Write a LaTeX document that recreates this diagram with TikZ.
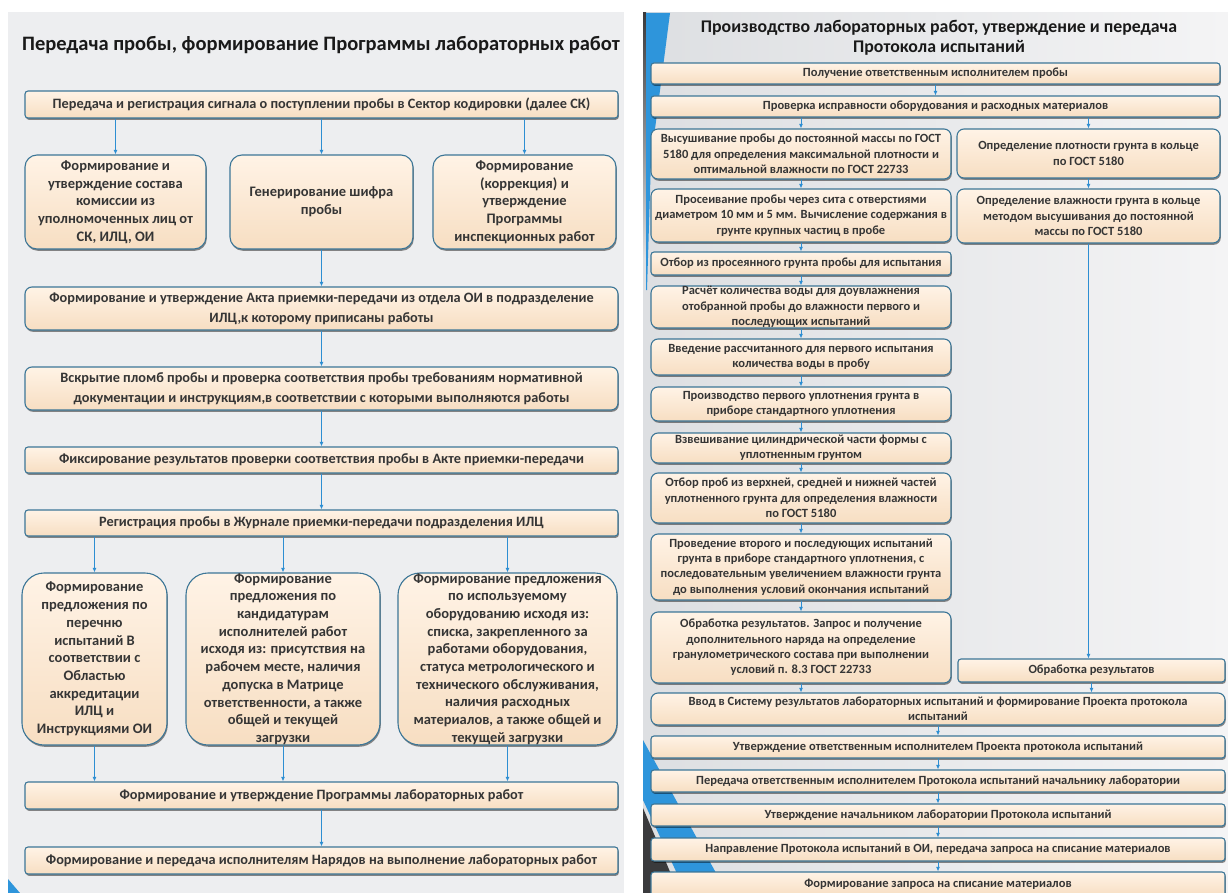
\documentclass[tikz,border=0pt]{standalone}
\usepackage{fontspec}
\setmainfont{Carlito}
\usetikzlibrary{shadows,arrows.meta}
\definecolor{leftbg}{HTML}{EDEEF0}
\definecolor{rbgL}{HTML}{DDDFE2}
\definecolor{rbgR}{HTML}{F4F4F5}
\definecolor{boxtop}{HTML}{FFF3E6}
\definecolor{boxbot}{HTML}{F7DEC2}
\definecolor{boxline}{HTML}{3C7697}
\definecolor{arrc}{HTML}{2D8ED2}
\definecolor{textc}{HTML}{353535}
\definecolor{stripe}{HTML}{2E95DB}
\definecolor{darkstripe}{HTML}{3A3A3C}
\newcommand\bx[8]{%
  \pgfmathsetmacro\bw{#4-#2}\pgfmathsetmacro\bh{#5-#3}%
  \pgfmathsetmacro\bcx{(#2+#4)/2}\pgfmathsetmacro\bcy{(#3+#5)/2}%
  \node[box,#6,minimum width=\bw pt,minimum height=\bh pt] (#1) at (\bcx,\bcy) {};%
  \node[txt,#7] (#1t) at (#1.center) {#8};}
\begin{document}
\begin{tikzpicture}[x=1pt,y=-1pt,
  box/.style={draw=boxline, line width=1.1pt, top color=boxtop, bottom color=boxbot,
    rounded corners=3pt, inner sep=0pt,
    drop shadow={shadow xshift=0.8pt, shadow yshift=-1.8pt, fill=black, opacity=0.45}},
  rbox/.style={rounded corners=12pt},
  rrbox/.style={rounded corners=22pt},
  mbox/.style={rounded corners=7pt},
  txt/.style={align=center, text=textc, inner sep=0pt, font=\bfseries\fontsize{14.3}{20}\selectfont},
  stxt/.style={font=\bfseries\fontsize{14.5}{17.7}\selectfont},
  rtxt/.style={font=\bfseries\fontsize{12.5}{15.3}\selectfont},
  arr/.style={draw=arrc, line width=1pt, -{Latex[length=4.5pt,width=4pt]}},
  ttl/.style={text=black!90, inner sep=0pt, align=center}]
\useasboundingbox (0,0) rectangle (1228,893);
\fill[white] (0,0) rectangle (1228,893);
% left panel
\fill[leftbg] (8,12) rectangle (624,893);
\fill[stripe] (8,879) -- (20,893) -- (8,893) -- cycle;
% right panel
\shade[left color=rbgL, right color=rbgR] (643,13) rectangle (1228,893);
\shade[top color=darkstripe, bottom color=rbgL] (643,13) rectangle (646,260);
\fill[stripe] (646,13) -- (670,13) -- (651,160) -- (647,290) -- (646,290) -- cycle;
\fill[stripe] (643,740) -- (727,893) -- (686,893) -- (643,800) -- cycle;
\fill[darkstripe] (643,808) -- (679,893) -- (643,893) -- cycle;

% ---------- LEFT ----------
\node[ttl, font=\bfseries\fontsize{20.5}{24}\selectfont] (t1) at (321,45) {Передача пробы, формирование Программы лабораторных работ};

\bx{b1}{25}{91}{618}{118}{}{}{Передача и регистрация сигнала о поступлении пробы в Сектор кодировки (далее СК)}
\bx{bA}{25}{155}{206}{249}{rbox}{stxt}{Формирование и\\утверждение состава\\комиссии из\\уполномоченных лиц от\\СК, ИЛЦ, ОИ}
\bx{bB}{230}{155}{413}{249}{rbox}{stxt}{Генерирование шифра\\пробы}
\bx{bC}{433}{155}{616}{249}{rbox}{stxt}{Формирование\\(коррекция) и\\утверждение\\Программы\\инспекционных работ}
\bx{b2}{25}{287}{618}{330}{mbox}{}{Формирование и утверждение Акта приемки-передачи из отдела ОИ в подразделение\\ИЛЦ,к которому приписаны работы}
\bx{b3}{25}{367}{618}{410}{mbox}{}{Вскрытие пломб пробы и проверка соответствия пробы требованиям нормативной\\документации и инструкциям,в соответствии с которыми выполняются работы}
\bx{b4}{25}{447}{618}{473}{}{}{Фиксирование результатов проверки соответствия пробы в Акте приемки-передачи}
\bx{b5}{25}{510}{618}{536}{}{}{Регистрация пробы в Журнале приемки-передачи подразделения ИЛЦ}
\bx{bA2}{22}{573}{167}{745}{rrbox}{stxt}{Формирование\\предложения по\\перечню\\испытаний В\\соответствии с\\Областью\\аккредитации\\ИЛЦ и\\Инструкциями ОИ}
\bx{bB2}{186}{573}{380}{745}{rrbox}{stxt}{Формирование\\предложения по\\кандидатурам\\исполнителей работ\\исходя из: присутствия на\\рабочем месте, наличия\\допуска в Матрице\\ответственности, а также\\общей и текущей\\загрузки}
\bx{bC2}{398}{573}{617}{745}{rrbox}{stxt}{Формирование предложения\\по используемому\\оборудованию исходя из:\\списка, закрепленного за\\работами оборудования,\\статуса метрологического и\\технического обслуживания,\\наличия расходных\\материалов, а также общей и\\текущей загрузки}
\bx{b6}{25}{782}{618}{809}{}{}{Формирование и утверждение Программы лабораторных работ}
\bx{b7}{25}{847}{618}{874}{}{}{Формирование и передача исполнителям Нарядов на выполнение лабораторных работ}

\draw[arr] (b1.south -| bA.north) -- (bA.north);
\draw[arr] (b1.south -| bB.north) -- (bB.north);
\draw[arr] (b1.south -| bC.north) -- (bC.north);
\draw[arr] (bB.south) -- (b2.north -| bB.south);
\draw[arr] (b2.south) -- (b3.north);
\draw[arr] (b3.south) -- (b4.north);
\draw[arr] (b4.south) -- (b5.north);
\draw[arr] (b5.south -| bA2.north) -- (bA2.north);
\draw[arr] (b5.south -| bB2.north) -- (bB2.north);
\draw[arr] (b5.south -| bC2.north) -- (bC2.north);
\draw[arr] (bA2.south) -- (b6.north -| bA2.south);
\draw[arr] (bB2.south) -- (b6.north -| bB2.south);
\draw[arr] (bC2.south) -- (b6.north -| bC2.south);
\draw[arr] (b6.south) -- (b7.north);

% ---------- RIGHT ----------
\node[ttl, font=\bfseries\fontsize{17.8}{20.5}\selectfont] (t2) at (939,38) {Производство лабораторных работ, утверждение и передача\\Протокола испытаний};

\bx{r1}{651}{63}{1220}{84}{}{rtxt}{Получение ответственным исполнителем пробы}
\bx{r2}{651}{96}{1220}{117}{}{rtxt}{Проверка исправности оборудования и расходных материалов}
\bx{l1}{651}{129}{951}{179}{mbox}{rtxt}{Высушивание пробы до постоянной массы по ГОСТ\\5180 для определения максимальной плотности и\\оптимальной влажности по ГОСТ 22733}
\bx{q1}{957}{129}{1220}{178}{mbox}{rtxt}{Определение плотности грунта в кольце\\по ГОСТ 5180}
\bx{l2}{651}{189}{951}{242}{mbox}{rtxt}{Просеивание пробы через сита с отверстиями\\диаметром 10 мм и 5 мм. Вычисление содержания в\\грунте крупных частиц в пробе}
\bx{q2}{957}{189}{1220}{243}{mbox}{rtxt}{Определение влажности грунта в кольце\\методом высушивания до постоянной\\массы по ГОСТ 5180}
\bx{l3}{651}{252}{951}{275}{}{rtxt}{Отбор из просеянного грунта пробы для испытания}
\bx{l4}{651}{286}{951}{328}{mbox}{rtxt}{Расчёт количества воды для доувлажнения\\отобранной пробы до влажности первого и\\последующих испытаний}
\bx{l5}{651}{339}{951}{375}{mbox}{rtxt}{Введение рассчитанного для первого испытания\\количества воды в пробу}
\bx{l6}{651}{387}{951}{421}{mbox}{rtxt}{Производство первого уплотнения грунта в\\приборе стандартного уплотнения}
\bx{l7}{651}{433}{951}{463}{mbox}{rtxt}{Взвешивание цилиндрической части формы с\\уплотненным грунтом}
\bx{l8}{651}{473}{951}{523}{mbox}{rtxt}{Отбор проб из верхней, средней и нижней частей\\уплотненного грунта для определения влажности\\по ГОСТ 5180}
\bx{l9}{651}{534}{951}{600}{mbox}{rtxt}{Проведение второго и последующих испытаний\\грунта в приборе стандартного уплотнения, с\\последовательным увеличением влажности грунта\\до выполнения условий окончания испытаний}
\bx{l10}{651}{612}{951}{683}{mbox}{rtxt}{Обработка результатов. Запрос и получение\\дополнительного наряда на определение\\гранулометрического состава при выполнении\\условий п. 8.3 ГОСТ 22733}
\bx{q3}{958}{659}{1225}{682}{}{rtxt}{Обработка результатов}
\bx{w1}{651}{693}{1225}{725}{mbox}{rtxt}{Ввод в Систему результатов лабораторных испытаний и формирование Проекта протокола\\испытаний}
\bx{w2}{651}{736}{1225}{758}{}{rtxt}{Утверждение ответственным исполнителем Проекта протокола испытаний}
\bx{w3}{651}{770}{1225}{792}{}{rtxt}{Передача ответственным исполнителем Протокола испытаний начальнику лаборатории}
\bx{w4}{651}{804}{1225}{826}{}{rtxt}{Утверждение начальником лаборатории Протокола испытаний}
\bx{w5}{651}{838}{1225}{861}{}{rtxt}{Направление Протокола испытаний в ОИ, передача запроса на списание материалов}
\bx{w6}{651}{872}{1225}{896}{}{rtxt}{Формирование запроса на списание материалов}

\draw[arr] (r1.south) -- (r2.north);
\draw[arr] (r2.south -| l1.north) -- (l1.north);
\draw[arr] (r2.south -| q1.north) -- (q1.north);
\draw[arr] (l1.south) -- (l2.north);
\draw[arr] (q1.south) -- (q2.north);
\draw[arr] (l2.south) -- (l3.north);
\draw[arr] (l3.south) -- (l4.north);
\draw[arr] (l4.south) -- (l5.north);
\draw[arr] (l5.south) -- (l6.north);
\draw[arr] (l6.south) -- (l7.north);
\draw[arr] (l7.south) -- (l8.north);
\draw[arr] (l8.south) -- (l9.north);
\draw[arr] (l9.south) -- (l10.north);
\draw[arr] (q2.south) -- (q3.north -| q2.south);
\draw[arr] (l10.south) -- (w1.north -| l10.south);
\draw[arr] (q3.south) -- (w1.north -| q3.south);
\draw[arr] (w1.south) -- (w2.north);
\draw[arr] (w2.south) -- (w3.north);
\draw[arr] (w3.south) -- (w4.north);
\draw[arr] (w4.south) -- (w5.north);
\draw[arr] (w5.south) -- (w6.north);
\end{tikzpicture}
\end{document}
